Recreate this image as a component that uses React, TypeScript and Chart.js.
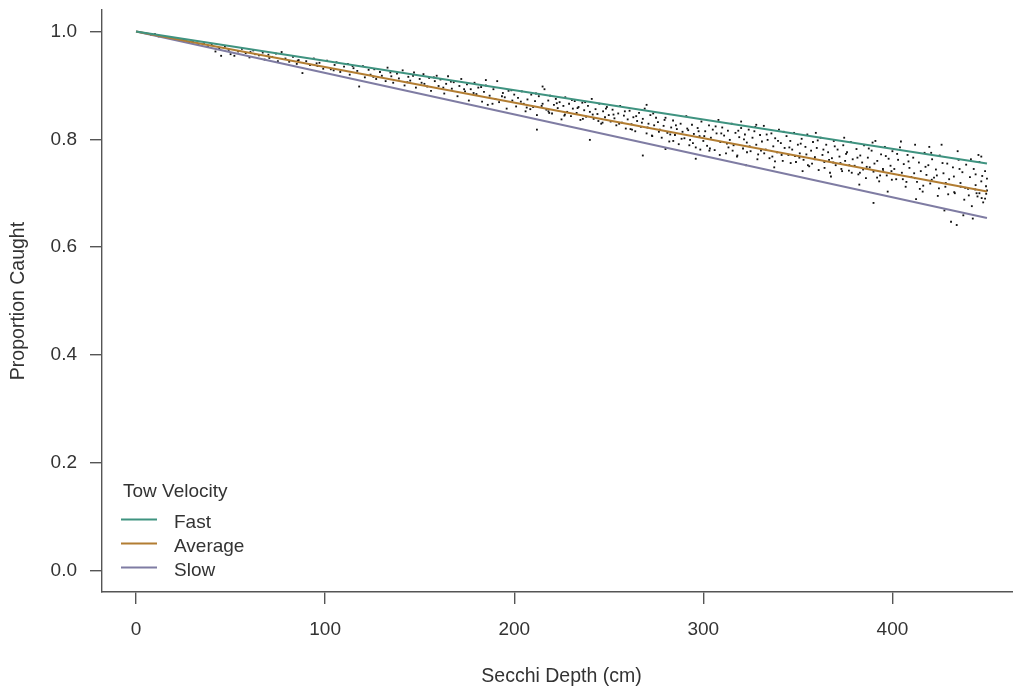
import React, { useEffect, useRef } from "react";
import { Chart, registerables } from "chart.js";

Chart.register(...registerables);

const xTickValues = [0, 100, 200, 300, 400];
const yTickValues = [0, 0.2, 0.4, 0.6, 0.8, 1.0];
const xTitle = "Secchi Depth (cm)";
const yTitle = "Proportion Caught";
const legendTitle = "Tow Velocity";
const velocityLabels = ["Fast", "Average", "Slow"];
const velocityColors = ["#3f9380", "#b27d32", "#7f7ca3"];
const lineDepths = [0, 450];
const fastLine = [1.0, 0.755];
const averageLine = [1.0, 0.703];
const slowLine = [1.0, 0.654];

const observedPoints: number[][] = [
  [2, 0.999], [5, 0.997], [8, 0.994], [10, 0.995], [12, 0.991], [15, 0.99], [18, 0.988], [20, 0.987], [22, 0.985],
  [25, 0.985], [28, 0.98], [30, 0.982], [33, 0.977], [36, 0.979], [38, 0.972], [40, 0.975], [42, 0.963], [44, 0.969], [45, 0.955], [47, 0.972], [49, 0.966], [50, 0.958],
  [52, 0.955], [54, 0.963], [56, 0.968], [58, 0.96], [60, 0.952], [62, 0.965], [63, 0.958], [65, 0.956], [67, 0.961], [68, 0.948], [70, 0.957], [72, 0.953], [74, 0.959], [75, 0.945], [77, 0.962], [79, 0.95],
  [81, 0.944], [83, 0.953], [85, 0.94], [86, 0.947], [88, 0.923], [90, 0.945], [92, 0.938], [94, 0.95], [96, 0.936], [97, 0.942], [99, 0.931],
  [101, 0.946], [103, 0.93], [105, 0.938], [106, 0.943], [108, 0.925], [110, 0.935], [112, 0.94], [113, 0.92], [115, 0.932], [117, 0.927], [118, 0.898], [120, 0.936], [121, 0.915], [123, 0.929], [124, 0.92],
  [126, 0.93], [127, 0.912], [129, 0.925], [130, 0.918], [132, 0.908], [133, 0.933], [135, 0.917], [136, 0.905], [138, 0.922], [139, 0.913], [141, 0.928], [142, 0.9], [144, 0.916], [145, 0.909], [147, 0.924], [148, 0.896], [150, 0.912],
  [151, 0.905], [152, 0.921], [154, 0.898], [155, 0.914], [156, 0.89], [158, 0.908], [159, 0.918], [160, 0.899], [161, 0.911], [163, 0.885], [164, 0.903], [165, 0.917], [167, 0.894], [168, 0.906], [170, 0.88], [171, 0.899], [172, 0.912], [174, 0.889], [175, 0.902],
  [176, 0.872], [177, 0.893], [179, 0.905], [180, 0.884], [181, 0.896], [183, 0.87], [184, 0.888], [185, 0.9], [186, 0.864], [187, 0.881], [189, 0.893], [190, 0.875], [191, 0.908], [192, 0.869], [194, 0.886], [195, 0.878], [196, 0.857], [197, 0.89], [199, 0.872], [200, 0.883],
  [201, 0.861], [202, 0.877], [204, 0.889], [205, 0.866], [206, 0.852], [207, 0.874], [209, 0.883], [210, 0.86], [211, 0.871], [212, 0.845], [213, 0.88], [215, 0.866], [216, 0.893], [217, 0.855], [218, 0.872], [219, 0.881], [220, 0.848], [221, 0.864], [222, 0.875], [223, 0.858], [224, 0.869], [225, 0.837],
  [226, 0.862], [227, 0.878], [228, 0.851], [229, 0.866], [230, 0.843], [231, 0.857], [232, 0.871], [233, 0.849], [234, 0.86], [235, 0.836], [236, 0.868], [237, 0.854], [238, 0.842], [239, 0.862], [240, 0.851], [241, 0.875], [242, 0.838], [243, 0.856], [244, 0.847], [245, 0.866], [246, 0.829], [247, 0.852], [248, 0.841], [249, 0.86], [250, 0.845],
  [251, 0.833], [252, 0.855], [253, 0.839], [254, 0.826], [255, 0.848], [256, 0.862], [257, 0.831], [258, 0.844], [259, 0.82], [260, 0.837], [261, 0.853], [262, 0.828], [263, 0.841], [264, 0.815], [265, 0.834], [266, 0.849], [267, 0.823], [268, 0.838], [269, 0.857], [270, 0.811], [271, 0.829], [272, 0.845], [273, 0.806], [274, 0.826], [275, 0.84],
  [276, 0.832], [277, 0.818], [278, 0.803], [279, 0.825], [280, 0.84], [281, 0.812], [282, 0.796], [283, 0.822], [284, 0.835], [285, 0.808], [286, 0.819], [287, 0.791], [288, 0.829], [289, 0.814], [290, 0.802], [291, 0.843], [292, 0.817], [293, 0.799], [294, 0.827], [295, 0.81], [296, 0.785], [297, 0.821], [298, 0.806], [299, 0.833], [300, 0.797],
  [301, 0.815], [302, 0.788], [303, 0.826], [304, 0.803], [305, 0.818], [306, 0.78], [307, 0.811], [308, 0.836], [309, 0.795], [310, 0.822], [311, 0.807], [312, 0.774], [313, 0.816], [314, 0.799], [315, 0.829], [316, 0.789], [317, 0.812], [318, 0.77], [319, 0.804], [320, 0.821], [321, 0.783], [322, 0.809], [323, 0.794], [324, 0.818], [325, 0.778],
  [326, 0.803], [327, 0.815], [328, 0.79], [329, 0.772], [330, 0.808], [331, 0.796], [332, 0.825], [333, 0.781], [334, 0.799], [335, 0.765], [336, 0.811], [337, 0.787], [338, 0.802], [339, 0.776], [340, 0.818], [341, 0.793], [342, 0.76], [343, 0.784], [344, 0.806], [345, 0.771], [346, 0.797], [347, 0.781], [348, 0.812], [349, 0.758], [350, 0.79],
  [351, 0.774], [352, 0.801], [353, 0.762], [354, 0.786], [355, 0.809], [356, 0.75], [357, 0.779], [358, 0.795], [359, 0.767], [360, 0.784], [361, 0.743], [362, 0.803], [363, 0.771], [364, 0.758], [365, 0.79], [366, 0.776], [367, 0.738], [368, 0.765], [369, 0.797], [370, 0.752], [371, 0.781], [372, 0.768], [373, 0.745], [374, 0.789], [375, 0.76],
  [376, 0.776], [377, 0.742], [378, 0.795], [379, 0.763], [380, 0.751], [381, 0.782], [382, 0.735], [383, 0.77], [384, 0.757], [385, 0.789], [386, 0.728], [387, 0.766], [388, 0.748], [389, 0.779], [390, 0.74], [391, 0.797], [392, 0.76], [393, 0.722], [394, 0.772], [395, 0.745], [396, 0.786], [397, 0.733], [398, 0.764], [399, 0.751], [400, 0.778],
  [401, 0.745], [402, 0.726], [403, 0.762], [404, 0.785], [405, 0.738], [406, 0.754], [407, 0.712], [408, 0.771], [409, 0.747], [410, 0.73], [411, 0.766], [412, 0.79], [413, 0.721], [414, 0.757], [415, 0.741], [416, 0.703], [417, 0.775], [418, 0.734], [419, 0.752], [420, 0.718], [421, 0.763], [422, 0.729], [423, 0.744], [424, 0.695], [425, 0.77],
  [426, 0.79], [427, 0.737], [428, 0.712], [429, 0.755], [430, 0.726], [431, 0.647], [432, 0.748], [433, 0.7], [434, 0.641], [435, 0.762], [436, 0.719], [437, 0.739], [438, 0.688], [439, 0.753], [440, 0.708], [441, 0.73], [442, 0.676], [443, 0.745], [444, 0.715], [445, 0.694], [446, 0.758], [447, 0.722], [448, 0.683], [449, 0.741], [450, 0.705], [450, 0.727], [449, 0.69], [447, 0.768], [446, 0.7], [444, 0.735],
  [212, 0.818], [240, 0.799], [268, 0.77], [280, 0.782], [296, 0.764], [390, 0.682], [328, 0.827], [320, 0.833], [270, 0.864], [215, 0.898], [185, 0.91],
  [152.5, 0.903], [157.5, 0.915], [162.5, 0.896], [166.5, 0.907], [173.5, 0.893], [178.5, 0.886], [182.5, 0.897], [188.5, 0.866], [193.5, 0.88], [198.5, 0.891],
  [203.5, 0.87], [208.5, 0.856], [211.5, 0.885], [214.5, 0.862], [218.5, 0.849], [222.5, 0.867], [226.5, 0.844], [230.5, 0.873], [233.5, 0.858], [237.5, 0.869], [241.5, 0.846], [244.5, 0.834], [248.5, 0.857],
  [252.5, 0.846], [255.5, 0.829], [258.5, 0.852], [261.5, 0.819], [264.5, 0.843], [267.5, 0.831], [270.5, 0.822], [273.5, 0.848], [276.5, 0.814], [279.5, 0.836], [282.5, 0.809], [285.5, 0.826], [288.5, 0.801], [291.5, 0.82], [294.5, 0.793], [297.5, 0.815],
  [300.5, 0.806], [303.5, 0.783], [306.5, 0.824], [309.5, 0.811], [312.5, 0.792], [315.5, 0.779], [318.5, 0.816], [321.5, 0.8], [324.5, 0.787], [327.5, 0.823], [330.5, 0.779], [333.5, 0.809], [336.5, 0.768], [339.5, 0.797], [342.5, 0.814], [345.5, 0.785], [348.5, 0.769],
  [351.5, 0.792], [354.5, 0.772], [357.5, 0.755], [360.5, 0.798], [363.5, 0.781], [366.5, 0.762], [369.5, 0.787], [372.5, 0.756], [375.5, 0.773], [378.5, 0.738], [381.5, 0.766], [384.5, 0.744], [387.5, 0.783], [390.5, 0.755], [393.5, 0.733], [396.5, 0.769], [399.5, 0.741],
  [402.5, 0.773], [405.5, 0.726], [408.5, 0.759], [411.5, 0.737], [414.5, 0.708], [417.5, 0.749], [420.5, 0.775], [423.5, 0.733], [426.5, 0.756], [429.5, 0.698], [432.5, 0.731], [435.5, 0.745], [438.5, 0.71], [441.5, 0.763], [444.5, 0.7], [447.5, 0.732], [449.5, 0.713],
  [60.5, 0.962], [70.5, 0.951], [85.5, 0.946], [95.5, 0.941], [104.5, 0.928], [114.5, 0.936], [125.5, 0.916], [134.5, 0.924], [143.5, 0.906], [146.5, 0.918],
  [322.5, 0.752], [337.5, 0.748], [352.5, 0.741], [367.5, 0.731], [382.5, 0.716], [397.5, 0.703], [412.5, 0.689], [427.5, 0.668], [437.5, 0.659], [442.5, 0.653],
  [359.5, 0.812], [374.5, 0.803], [389.5, 0.794], [404.5, 0.796], [419.5, 0.786], [434.5, 0.778], [445.5, 0.771],
  [303.2, 0.779], [308.7, 0.771], [313.3, 0.785], [317.8, 0.768], [323.1, 0.776], [328.6, 0.763], [332.2, 0.774], [337.9, 0.759], [341.4, 0.771], [346.2, 0.756],
  [350.8, 0.766], [355.3, 0.752], [358.9, 0.763], [364.1, 0.747], [368.7, 0.757], [373.4, 0.741], [377.2, 0.752], [382.8, 0.738], [386.4, 0.749], [391.9, 0.729],
  [395.1, 0.741], [399.7, 0.725], [403.6, 0.734], [407.4, 0.721], [411.9, 0.728], [416.3, 0.714], [420.8, 0.725], [424.6, 0.709], [428.2, 0.719], [432.7, 0.702],
  [436.1, 0.712], [440.4, 0.696], [443.8, 0.707], [447.2, 0.691], [449.6, 0.699], [262.3, 0.818], [272.8, 0.807], [284.1, 0.797], [292.6, 0.789], [298.4, 0.781],
  [246.7, 0.831], [236.3, 0.838], [226.8, 0.846], [218.1, 0.852], [206.6, 0.859],
];

const FONT = "'Liberation Sans', Arial, sans-serif";
const TEXT = "#333333";
const AXIS = "#555555";

const legendPlugin = {
  id: "rLegend",
  afterDraw(chart: any) {
    const { ctx, chartArea } = chart;
    const left = chartArea.left;
    ctx.save();
    ctx.font = `19px ${FONT}`;
    ctx.fillStyle = TEXT;
    ctx.textAlign = "left";
    ctx.textBaseline = "alphabetic";
    ctx.fillText(legendTitle, left + 21, 497);
    velocityLabels.forEach((label, i) => {
      const y = 519.5 + i * 24;
      ctx.strokeStyle = velocityColors[i];
      ctx.lineWidth = 2;
      ctx.beginPath();
      ctx.moveTo(left + 19, y);
      ctx.lineTo(left + 55, y);
      ctx.stroke();
      ctx.fillStyle = TEXT;
      ctx.fillText(label, left + 72, y + 8.5);
    });
    ctx.restore();
  },
};

export default function App() {
  const canvasRef = useRef<HTMLCanvasElement | null>(null);

  useEffect(() => {
    const canvas = canvasRef.current;
    if (!canvas) return;
    const lines = [fastLine, averageLine, slowLine];
    const lineSets = lines.map((vals, i) => ({
      type: "scatter" as const,
      label: velocityLabels[i],
      data: lineDepths.map((d, j) => ({ x: d, y: vals[j] })),
      showLine: true,
      borderColor: velocityColors[i],
      backgroundColor: velocityColors[i],
      borderWidth: 2,
      pointRadius: 0,
      order: 0,
    }));
    const chart = new Chart(canvas, {
      type: "scatter",
      data: {
        datasets: [
          ...lineSets,
          {
            label: "Observed",
            data: observedPoints.map(([x, y]) => ({ x, y })),
            pointStyle: "rect",
            pointRadius: 1.3,
            borderWidth: 0,
            backgroundColor: "#111111",
            borderColor: "#111111",
            order: 1,
          },
        ],
      },
      options: {
        responsive: false,
        animation: false,
        devicePixelRatio: 1,
        layout: { padding: { left: 0, top: 10, right: 0, bottom: 0 } },
        plugins: { legend: { display: false }, tooltip: { enabled: false } },
        scales: {
          x: {
            type: "linear",
            min: -18,
            max: 468,
            afterBuildTicks: (s: any) => {
              s.ticks = xTickValues.map((v) => ({ value: v }));
            },
            afterFit: (s: any) => {
              s.height = 100;
              s.paddingLeft = 0;
              s.paddingRight = 0;
              s.paddingTop = 0;
              s.paddingBottom = 0;
            },
            ticks: {
              font: { family: FONT, size: 19 },
              color: TEXT,
              padding: 14,
              maxRotation: 0,
              callback: (v: any) => String(v),
            },
            grid: {
              display: true,
              drawOnChartArea: false,
              drawTicks: true,
              tickLength: 12,
              color: AXIS,
              lineWidth: 1.4,
            },
            border: { display: true, color: AXIS, width: 1.4 },
            title: {
              display: true,
              text: xTitle,
              font: { family: FONT, size: 19.5 },
              color: TEXT,
              padding: { top: 0, bottom: 4 },
            },
          },
          y: {
            type: "linear",
            min: -0.04,
            max: 1.04,
            afterBuildTicks: (s: any) => {
              s.ticks = yTickValues.map((v) => ({ value: v }));
            },
            afterFit: (s: any) => {
              s.width = 102;
              s.paddingLeft = 0;
              s.paddingRight = 0;
              s.paddingTop = 0;
              s.paddingBottom = 0;
            },
            ticks: {
              font: { family: FONT, size: 19 },
              color: TEXT,
              padding: 13,
              callback: (v: any) => Number(v).toFixed(1),
            },
            grid: {
              display: true,
              drawOnChartArea: false,
              drawTicks: true,
              tickLength: 12,
              color: AXIS,
              lineWidth: 1.4,
            },
            border: { display: true, color: AXIS, width: 1.4 },
            title: {
              display: true,
              text: yTitle,
              font: { family: FONT, size: 19.5 },
              color: TEXT,
              padding: { top: 7, bottom: 0 },
            },
          },
        },
      },
      plugins: [legendPlugin],
    } as any);
    return () => chart.destroy();
  }, []);

  return (
    <div
      style={{
        position: "fixed",
        left: 0,
        top: 0,
        width: 1013,
        height: 692,
        overflow: "hidden",
        background: "#ffffff",
      }}
    >
      <canvas ref={canvasRef} width={1025} height={692} style={{ display: "block" }} />
    </div>
  );
}
